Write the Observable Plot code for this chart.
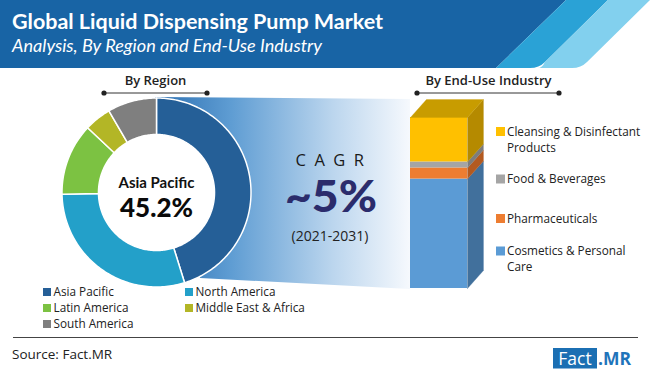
<!DOCTYPE html>
<html><head><meta charset="utf-8">
<script src="https://cdn.jsdelivr.net/npm/d3@7"></script>
<script src="https://cdn.jsdelivr.net/npm/@observablehq/plot@0.6"></script>
<style>
body{margin:0;background:#fff;}
#c{position:relative;width:650px;height:373px;overflow:hidden;background:#fff;}
#c > *{position:absolute;}
</style></head>
<body><div id="c"></div>
<script>
// ---- data ----
const title = "Global Liquid Dispensing Pump Market";
const subtitle = "Analysis, By Region and End-Use Industry";
const regions = ["Asia Pacific", "North America", "Latin America", "Middle East & Africa", "South America"];
const regionShares = [45.2, 29.5, 12.3, 4.6, 8.4];
const regionColors = ["#255f97", "#23a0c9", "#7cc242", "#b3b626", "#7f7f7f"];
const industries = ["Cosmetics & Personal Care", "Pharmaceuticals", "Food & Beverages", "Cleansing & Disinfectant Products"];
const industryShares = [64, 6.5, 3.5, 26];
const industryColors = ["#5b9bd5", "#ed7d31", "#a5a5a5", "#ffc000"];
const industrySideColors = ["#41709c", "#b35a20", "#7d7d7d", "#b58a00"];
const cagrLabel = "CAGR";
const cagrValue = "~5%";
const cagrPeriod = "(2021-2031)";
const source = "Source: Fact.MR";

const NS = "http://www.w3.org/2000/svg";
const c = document.getElementById("c");
function el(tag, attrs, parent, text){
  const e = document.createElementNS(NS, tag);
  for (const k in attrs) e.setAttribute(k, attrs[k]);
  if (text !== undefined) e.textContent = text;
  parent.appendChild(e); return e;
}

// ---- background layer (header + funnel) ----
const bg = el("svg", {width:650, height:373, style:"left:0;top:0"}, c);
const defs = el("defs", {}, bg);
const lg = el("linearGradient", {id:"fun", x1:"155", x2:"410", y1:"0", y2:"0", gradientUnits:"userSpaceOnUse"}, defs);
el("stop", {offset:"0", "stop-color":"#2c6fb1"}, lg);
el("stop", {offset:"0.3", "stop-color":"#5f9dd3"}, lg);
el("stop", {offset:"0.7", "stop-color":"#bcd6ee"}, lg);
el("stop", {offset:"1", "stop-color":"#f6f9fd"}, lg);
el("path", {d:"M155,97 L410,99 L410,289 L200,278 Z", fill:"url(#fun)"}, bg);
el("rect", {x:0, y:0, width:650, height:68, fill:"#fff"}, bg);
el("path", {d:"M0,0 H566 L496,68 H0 Z", fill:"#1864a5"}, bg);
el("path", {d:"M566,0 H608 L545,62 Q539,68 530,68 H496 Z", fill:"#2aa2d6"}, bg);
el("path", {d:"M608,0 H650 L587,62 Q581,68 572,68 H538 Q542,68 545,62 Z", fill:"#82d0ee"}, bg);
el("text", {x:12, y:28.5, fill:"#fff", "font-family":"Lato", "font-weight":"bold", "font-size":20, textLength:371, lengthAdjust:"spacingAndGlyphs"}, bg, title);
el("text", {x:12, y:52, fill:"#fff", "font-family":"Lato", "font-style":"italic", "font-size":16.5, textLength:310, lengthAdjust:"spacingAndGlyphs"}, bg, subtitle);

// ---- donut (Plot) ----
const total = d3.sum(regionShares);
const R0 = 0.614;
const slicePts = [];
let acc = 0;
regions.forEach((r, i) => {
  const a0 = acc / total * 2 * Math.PI; acc += regionShares[i];
  const a1 = acc / total * 2 * Math.PI;
  const n = Math.max(2, Math.ceil((a1 - a0) / 0.02));
  const pts = [];
  for (let k = 0; k <= n; k++) { const a = a0 + (a1 - a0) * k / n; pts.push([Math.sin(a), Math.cos(a)]); }
  for (let k = n; k >= 0; k--) { const a = a0 + (a1 - a0) * k / n; pts.push([R0 * Math.sin(a), R0 * Math.cos(a)]); }
  pts.push(pts[0]);
  pts.forEach(p => slicePts.push({region: r, x: p[0], y: p[1], color: regionColors[i]}));
});
const donut = Plot.plot({
  width: 200, height: 200, margin: 0,
  style: {background: "transparent", overflow: "visible"},
  x: {domain: [-1, 1], range: [5.5, 194.5], axis: null},
  y: {domain: [-1, 1], range: [194.5, 5.5], axis: null},
  marks: [
    Plot.dot([0], {x: () => 0, y: () => 0, r: R0 * 94.5, fill: "white", stroke: "none"}),
    Plot.line(slicePts, {x: "x", y: "y", z: "region", fill: "color", stroke: "white", strokeWidth: 1.5, strokeLinejoin: "round"}),
    Plot.text([regions[0]], {x: () => 0, y: () => 0, text: d => d, dy: -9.5, fontFamily: "Lato", fontWeight: "bold", fontSize: 15, fill: "#111"}),
    Plot.text([regionShares[0]], {x: () => 0, y: () => 0, text: d => d.toFixed(1) + "%", dy: 16, fontFamily: "Lato", fontWeight: 900, fontSize: 26, fill: "#0a0a0a"})
  ]
});
donut.style.left = "55.5px"; donut.style.top = "91.5px";
c.appendChild(donut);

// ---- 3D stacked bar (Plot) ----
let cum = 0;
const segs = industries.map((name, i) => { const y1 = cum; cum += industryShares[i]; return {name, y1, y2: cum, color: industryColors[i], side: industrySideColors[i]}; });
const dX = 0.28, dY = 10.5;
const facePts = segs.flatMap(s => [[1, s.y1], [1, s.y2], [1 + dX, s.y2 + dY], [1 + dX, s.y1 + dY], [1, s.y1]]
  .map(([x, y]) => ({name: s.name, x, y, color: s.side})));
[[0, cum], [1, cum], [1 + dX, cum + dY], [dX, cum + dY], [0, cum]]
  .forEach(([x, y]) => facePts.push({name: "top", x, y, color: "#c89c00"}));
const bar = Plot.plot({
  width: 90, height: 200, margin: 0,
  style: {background: "transparent", overflow: "visible"},
  x: {domain: [0, 1.3], range: [5, 5 + 1.3 * 57], axis: null},
  y: {domain: [0, 110.5], range: [196, 196 - 110.5 * 1.71], axis: null},
  marks: [
    Plot.rect(segs, {x1: () => 0, x2: () => 1, y1: "y1", y2: "y2", fill: "color"}),
    Plot.line(facePts, {x: "x", y: "y", z: "name", fill: "color", stroke: "color", strokeWidth: 0.3})
  ]
});
bar.style.left = "405px"; bar.style.top = "92px";
c.appendChild(bar);

// ---- text overlay ----
const fg = el("svg", {width:650, height:373, style:"left:0;top:0;pointer-events:none"}, c);
const OS = "Open Sans";
el("text", {x:155.5, y:85, "text-anchor":"middle", "font-family":OS, "font-weight":600, "font-size":13, fill:"#222"}, fg, "By Region");
el("text", {x:488.5, y:85, "text-anchor":"middle", "font-family":OS, "font-weight":600, "font-size":13, fill:"#222"}, fg, "By End-Use Industry");
[[104, 207], [417, 559]].forEach(([a, b]) => {
  el("line", {x1:a, x2:b, y1:93, y2:93, stroke:"#333", "stroke-width":1}, fg);
  el("circle", {cx:a, cy:93, r:2.6, fill:"#222"}, fg);
  el("circle", {cx:b, cy:93, r:2.6, fill:"#222"}, fg);
});
el("text", {x:334, y:166, "text-anchor":"middle", "font-family":OS, "font-size":16.5, "letter-spacing":8.5, fill:"#1a1a1a"}, fg, cagrLabel);
el("text", {x:331, y:212, "text-anchor":"middle", "font-family":"Lato", "font-weight":900, "font-size":44, fill:"#2b2c6c", textLength:92, lengthAdjust:"spacingAndGlyphs"}, fg, cagrValue);
el("text", {x:330, y:240.5, "text-anchor":"middle", "font-family":OS, "font-size":14, fill:"#222"}, fg, cagrPeriod);

// bottom region legend
regions.forEach((r, i) => {
  const col = i % 2, row = Math.floor(i / 2);
  const x = col === 0 ? 43 : 185, y = 292 + row * 16;
  el("rect", {x, y: y - 4, width: 8, height: 8, fill: regionColors[i]}, fg);
  el("text", {x: x + 10.5, y: y + 4, "font-family": OS, "font-size": 11.75, fill: "#222"}, fg, r);
});

// right industry legend
function wrap(s, max){ const w = s.split(" "); const lines = [""]; w.forEach(t => { const cur = lines[lines.length-1]; if (cur && (cur + " " + t).length > max) lines.push(t); else lines[lines.length-1] = cur ? cur + " " + t : t; }); return lines; }
const legY = [135.5, 183, 222.5, 255];
industries.slice().reverse().forEach((name, j) => {
  const i = industries.length - 1 - j;
  const y = legY[j];
  el("rect", {x: 496, y: y - 8.5, width: 9, height: 9, fill: industryColors[i]}, fg);
  wrap(name, 24).forEach((ln, k) => el("text", {x: 507, y: y + k * 16, "font-family": OS, "font-size": 11.75, fill: "#222"}, fg, ln));
});

// footer
el("line", {x1:13, x2:638, y1:337.5, y2:337.5, stroke:"#444", "stroke-width":1}, fg);
el("text", {x:12, y:359, "font-family":OS, "font-size":13.5, fill:"#222"}, fg, source);
el("rect", {x:553, y:348, width:44, height:20.5, fill:"#1b6fb3"}, fg);
el("text", {x:575, y:365, "text-anchor":"middle", "font-family":OS, "font-size":17.5, fill:"#fff"}, fg, "Fact");
el("text", {x:598, y:365, "font-family":OS, "font-weight":"bold", "font-size":17.5, fill:"#1f74ba"}, fg, ".MR");
</script>
</body></html>
